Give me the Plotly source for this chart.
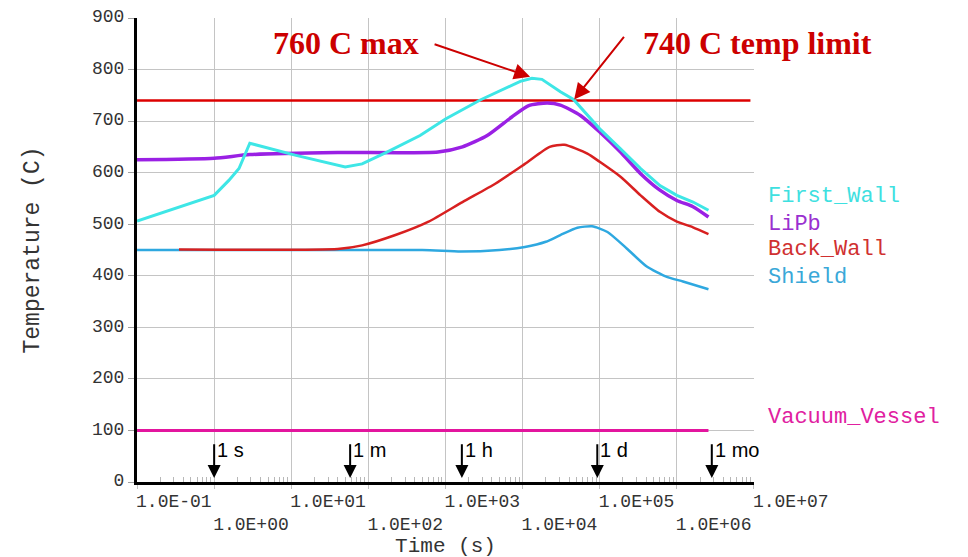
import numpy as np
import plotly.graph_objects as go

# ---------------- data ----------------
fw_time = [0.1, 1.0, 1.55, 2.1, 2.9, 11.2, 50, 83, 174, 468, 1000, 2820,
           9330, 13200, 17800, 30900, 45700, 100000, 186000, 339000, 603000,
           1000000, 1620000, 2570000]
fw_temp = [506, 556, 585, 608, 657, 634, 611, 617, 640, 672, 704, 741,
           777, 783, 781, 757, 742, 685, 646, 608, 575, 556, 543, 527]

lipb_time = [0.1, 1.0, 2.9, 40, 800, 1660, 3470, 7240, 12000, 20900, 30900,
             56200, 100000, 186000, 339000, 603000, 1000000, 1620000, 2570000]
lipb_temp = [625, 628, 635, 639, 640, 650, 672, 708, 730, 735, 731,
             711, 679, 640, 598, 566, 546, 534, 514]

bw_time = [0.35, 40, 83, 224, 603, 1660, 4470, 10700, 22400, 34700, 69200,
           100000, 186000, 339000, 603000, 1000000, 1620000, 2570000]
bw_temp = [451, 452, 459, 479, 505, 543, 579, 617, 650, 654, 637,
           621, 592, 556, 524, 505, 494, 481]

sh_time = [0.1, 500, 1580, 5010, 10700, 20000, 30900, 51300, 79400, 126000,
           224000, 407000, 741000, 1200000, 2570000]
sh_temp = [450, 450, 447, 450, 456, 466, 479, 493, 496, 485,
           453, 418, 398, 389, 374]

vv_time = [0.1, 2570000]
vv_temp = [100, 100]

limit_time = [0.1, 9000000]
limit_temp = [740, 740]

series_names = ["First_Wall", "LiPb", "Back_Wall", "Shield", "Vacuum_Vessel"]

marker_times = [1.0, 58, 1630, 93000, 2840000]
marker_labels = ["1 s", "1 m", "1 h", "1 d", "1 mo"]

x_tick_vals = [1e-1, 1e0, 1e1, 1e2, 1e3, 1e4, 1e5, 1e6, 1e7]
x_tick_text = ["1.0E-01", "1.0E+00", "1.0E+01", "1.0E+02", "1.0E+03",
               "1.0E+04", "1.0E+05", "1.0E+06", "1.0E+07"]
y_tick_vals = [0, 100, 200, 300, 400, 500, 600, 700, 800, 900]

max_label = "760 C max"
limit_label = "740 C temp limit"
max_point = (12500, 786)
limit_point = (46600, 742)

# ---------------- styles ----------------
colors = {
    "First_Wall": "#3ee6e6",
    "LiPb": "#9a20e4",
    "Back_Wall": "#d82020",
    "Shield": "#2ea8e0",
    "Vacuum_Vessel": "#e3159e",
}
label_colors = {
    "First_Wall": "#3ee0e0",
    "LiPb": "#9a30d0",
    "Back_Wall": "#d03030",
    "Shield": "#3aa8d8",
    "Vacuum_Vessel": "#e020a0",
}
MONO = "Liberation Mono, Courier New, monospace"
SERIF = "Liberation Serif, Times New Roman, serif"
SANS = "Liberation Sans, Arial, sans-serif"
RED = "#cc0000"

fig = go.Figure()

fig.add_trace(go.Scatter(x=limit_time, y=limit_temp, mode="lines",
                         line=dict(color="#dd0000", width=2.5), hoverinfo="skip"))
fig.add_trace(go.Scatter(x=vv_time, y=vv_temp, mode="lines", name="Vacuum_Vessel",
                         line=dict(color=colors["Vacuum_Vessel"], width=3)))
fig.add_trace(go.Scatter(x=sh_time, y=sh_temp, mode="lines", name="Shield",
                         line=dict(color=colors["Shield"], width=2.5, shape="spline", smoothing=0.6)))
fig.add_trace(go.Scatter(x=bw_time, y=bw_temp, mode="lines", name="Back_Wall",
                         line=dict(color=colors["Back_Wall"], width=2.5, shape="spline", smoothing=0.6)))
fig.add_trace(go.Scatter(x=lipb_time, y=lipb_temp, mode="lines", name="LiPb",
                         line=dict(color=colors["LiPb"], width=3.5, shape="spline", smoothing=0.6)))
fig.add_trace(go.Scatter(x=fw_time, y=fw_temp, mode="lines", name="First_Wall",
                         line=dict(color=colors["First_Wall"], width=3)))

annotations = []

# series labels on the right
label_y = {"First_Wall": 0.616, "LiPb": 0.554, "Back_Wall": 0.502,
           "Shield": 0.440, "Vacuum_Vessel": 0.138}
for nm in series_names:
    annotations.append(dict(xref="paper", yref="paper", x=1.019, y=label_y[nm],
                            xanchor="left", yanchor="middle", showarrow=False,
                            text=nm, font=dict(family=MONO, size=22, color=label_colors[nm])))

# time markers (arrows + text)
for t, lab in zip(marker_times, marker_labels):
    lx = float(np.log10(t))
    annotations.append(dict(x=lx, y=8, ax=lx, ay=76, xref="x", yref="y",
                            axref="x", ayref="y", text="", showarrow=True,
                            arrowhead=2, arrowsize=1.3, arrowwidth=2, arrowcolor="black"))
    annotations.append(dict(x=lx, y=62, xref="x", yref="y", xanchor="left",
                            yanchor="middle", xshift=1, showarrow=False, text=lab,
                            font=dict(family=SANS, size=20, color="black")))

# big red callouts
annotations.append(dict(xref="paper", yref="paper", x=0.339, y=0.946, showarrow=False,
                        text="<b>%s</b>" % max_label, xanchor="center", yanchor="middle",
                        font=dict(family=SERIF, size=32, color=RED)))
annotations.append(dict(xref="paper", yref="paper", x=1.005, y=0.946, showarrow=False,
                        text="<b>%s</b>" % limit_label, xanchor="center", yanchor="middle",
                        font=dict(family=SERIF, size=32, color=RED)))
annotations.append(dict(x=float(np.log10(max_point[0])), y=max_point[1], xref="x", yref="y",
                        ax=-97, ay=-33, text="", showarrow=True, arrowhead=2,
                        arrowsize=1.6, arrowwidth=2, arrowcolor=RED))
annotations.append(dict(x=float(np.log10(limit_point[0])), y=limit_point[1], xref="x", yref="y",
                        ax=51, ay=-64, text="", showarrow=True, arrowhead=2,
                        arrowsize=1.6, arrowwidth=2, arrowcolor=RED))

minor_vals = [m * 10.0 ** k for k in range(-1, 7) for m in range(2, 10)]
x_text = [t if i % 2 == 0 else "<br>" + t for i, t in enumerate(x_tick_text)]

fig.update_layout(
    width=968, height=557,
    margin=dict(l=129, r=222, t=10, b=83),
    paper_bgcolor="white", plot_bgcolor="white",
    showlegend=False,
    annotations=annotations,
    xaxis=dict(
        type="log", range=[-1.0005, 7.0005], automargin=False,
        tickmode="array", tickvals=x_tick_vals, ticktext=x_text,
        tickangle=0,
        ticklabelposition="outside right", ticklabeloverflow="allow",
        ticklabelshift=-3,
        tickfont=dict(family=MONO, size=18, color="#333333"),
        ticks="outside", ticklen=4, tickcolor="#c0c0c0",
        showgrid=True, gridcolor="#c4c4c4", gridwidth=1,
        showline=True, linecolor="black", linewidth=3,
        zeroline=False,
        minor=dict(tickmode="array", tickvals=minor_vals, ticks="inside",
                   ticklen=5, tickcolor="#b8b8b8", showgrid=False),
        title=dict(text="Time (s)", font=dict(family=MONO, size=21, color="#333333"),
                   standoff=1),
    ),
    yaxis=dict(
        range=[0, 900], tickmode="array", tickvals=y_tick_vals, automargin=False,
        ticklabeloverflow="allow", ticklabelshift=-2,
        tickfont=dict(family=MONO, size=18, color="#333333"),
        ticks="outside", ticklen=6, tickcolor="#a0a0a0",
        showgrid=True, gridcolor="#c4c4c4", gridwidth=1,
        showline=True, linecolor="black", linewidth=3,
        zeroline=False,
        title=dict(text="Temperature (C)", font=dict(family=MONO, size=23, color="#333333"),
                   standoff=46),
    ),
)

fig.write_html("out.html")
